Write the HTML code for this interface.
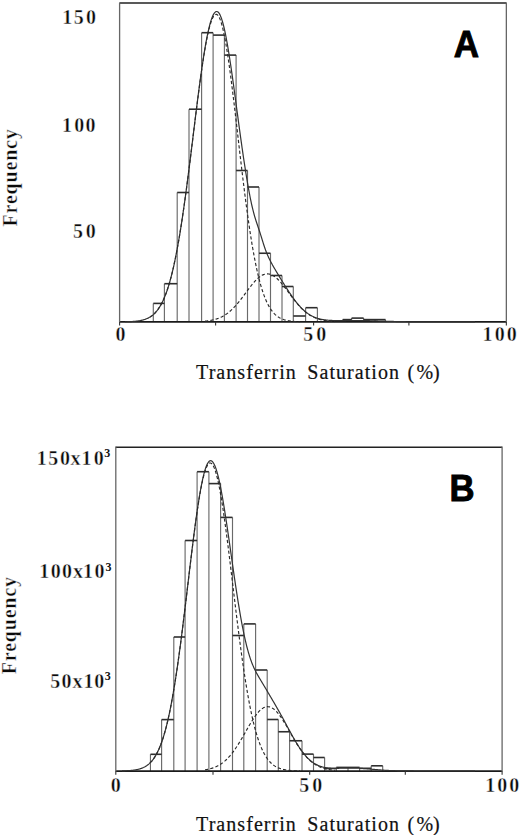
<!DOCTYPE html>
<html><head><meta charset="utf-8"><style>
html,body{margin:0;padding:0;background:#fff;}
svg{display:block;}
.vl{stroke:#6a6a6a;stroke-width:1.15;}
.hl{stroke:#2e2e2e;stroke-width:1.6;}
.boxh{stroke:#222;stroke-width:1.4;}
.boxb{stroke:#1a1a1a;stroke-width:1.7;}
.boxv{stroke:#666;stroke-width:1.3;}
.tick{stroke:#333;stroke-width:1.1;}
.solid{fill:none;stroke:#333;stroke-width:1.2;}
.dash{fill:none;stroke:#2a2a2a;stroke-width:1.15;stroke-dasharray:3.2,2.2;}
.num{font-family:"Liberation Serif",serif;font-weight:bold;font-size:20px;fill:#0a0a0a;stroke:#fff;stroke-width:0.4px;}
.sup{font-family:"Liberation Serif",serif;font-weight:bold;font-size:12px;fill:#111;}
.ylab{font-family:"Liberation Serif",serif;font-weight:bold;font-size:20px;letter-spacing:0.8px;fill:#0a0a0a;stroke:#fff;stroke-width:0.4px;}
.xlab{font-family:"Liberation Serif",serif;font-size:20px;letter-spacing:1.05px;fill:#111;stroke:#111;stroke-width:0.2px;}
.big{font-family:"Liberation Sans",sans-serif;font-weight:bold;font-size:36.3px;fill:#000;stroke:#000;stroke-width:0.9px;stroke-linejoin:miter;}
</style></head>
<body><svg width="520" height="835" viewBox="0 0 520 835">
<line x1="153.30" y1="321.90" x2="153.30" y2="303.40" class="vl"/>
<line x1="164.40" y1="321.90" x2="164.40" y2="283.70" class="vl"/>
<line x1="177.20" y1="321.90" x2="177.20" y2="192.50" class="vl"/>
<line x1="189.00" y1="321.90" x2="189.00" y2="109.20" class="vl"/>
<line x1="201.60" y1="321.90" x2="201.60" y2="32.70" class="vl"/>
<line x1="213.10" y1="321.90" x2="213.10" y2="32.70" class="vl"/>
<line x1="224.40" y1="321.90" x2="224.40" y2="35.10" class="vl"/>
<line x1="236.10" y1="321.90" x2="236.10" y2="55.10" class="vl"/>
<line x1="247.50" y1="321.90" x2="247.50" y2="170.50" class="vl"/>
<line x1="259.00" y1="321.90" x2="259.00" y2="187.00" class="vl"/>
<line x1="270.50" y1="321.90" x2="270.50" y2="253.25" class="vl"/>
<line x1="282.00" y1="321.90" x2="282.00" y2="275.50" class="vl"/>
<line x1="293.30" y1="321.90" x2="293.30" y2="286.50" class="vl"/>
<line x1="305.60" y1="321.90" x2="305.60" y2="307.70" class="vl"/>
<line x1="317.40" y1="321.90" x2="317.40" y2="307.70" class="vl"/>
<line x1="342.70" y1="321.90" x2="342.70" y2="319.60" class="vl"/>
<line x1="351.60" y1="321.90" x2="351.60" y2="318.10" class="vl"/>
<line x1="363.60" y1="321.90" x2="363.60" y2="318.10" class="vl"/>
<line x1="375.00" y1="321.90" x2="375.00" y2="319.60" class="vl"/>
<line x1="385.50" y1="321.90" x2="385.50" y2="319.60" class="vl"/>
<line x1="153.30" y1="303.40" x2="164.40" y2="303.40" class="hl"/>
<line x1="164.40" y1="283.70" x2="177.20" y2="283.70" class="hl"/>
<line x1="177.20" y1="192.50" x2="189.00" y2="192.50" class="hl"/>
<line x1="189.00" y1="109.20" x2="201.60" y2="109.20" class="hl"/>
<line x1="201.60" y1="32.70" x2="213.10" y2="32.70" class="hl"/>
<line x1="213.10" y1="35.10" x2="224.40" y2="35.10" class="hl"/>
<line x1="224.40" y1="55.10" x2="236.10" y2="55.10" class="hl"/>
<line x1="236.10" y1="170.50" x2="247.50" y2="170.50" class="hl"/>
<line x1="247.50" y1="187.00" x2="259.00" y2="187.00" class="hl"/>
<line x1="259.00" y1="253.25" x2="270.50" y2="253.25" class="hl"/>
<line x1="270.50" y1="275.50" x2="282.00" y2="275.50" class="hl"/>
<line x1="282.00" y1="286.50" x2="293.30" y2="286.50" class="hl"/>
<line x1="293.30" y1="316.00" x2="305.60" y2="316.00" class="hl"/>
<line x1="305.60" y1="307.70" x2="317.40" y2="307.70" class="hl"/>
<line x1="342.70" y1="319.60" x2="351.60" y2="319.60" class="hl"/>
<line x1="351.60" y1="318.10" x2="363.60" y2="318.10" class="hl"/>
<line x1="363.60" y1="319.60" x2="375.00" y2="319.60" class="hl"/>
<line x1="375.00" y1="319.60" x2="385.50" y2="319.60" class="hl"/>
<line x1="119.6" y1="3.0" x2="506.35" y2="3.0" class="boxh"/>
<line x1="119.6" y1="321.9" x2="506.35" y2="321.9" class="boxb"/>
<line x1="119.6" y1="2.4" x2="119.6" y2="322.5" class="boxv"/>
<line x1="506.35" y1="2.4" x2="506.35" y2="322.5" class="boxv"/>
<line x1="119.60" y1="321.9" x2="119.60" y2="325.4" class="tick"/>
<line x1="215.60" y1="321.9" x2="215.60" y2="325.4" class="tick"/>
<line x1="313.60" y1="321.9" x2="313.60" y2="325.4" class="tick"/>
<line x1="408.90" y1="321.9" x2="408.90" y2="325.4" class="tick"/>
<line x1="506.35" y1="321.9" x2="506.35" y2="325.4" class="tick"/>
<path d="M125.00,321.78 L125.50,321.77 L126.00,321.76 L126.50,321.75 L127.00,321.73 L127.50,321.72 L128.00,321.70 L128.50,321.69 L129.00,321.67 L129.50,321.65 L130.00,321.63 L130.50,321.60 L131.00,321.58 L131.50,321.55 L132.00,321.52 L132.50,321.49 L133.00,321.46 L133.50,321.42 L134.00,321.38 L134.50,321.34 L135.00,321.30 L135.50,321.25 L136.00,321.20 L136.50,321.14 L137.00,321.08 L137.50,321.02 L138.00,320.95 L138.50,320.88 L139.00,320.80 L139.50,320.72 L140.00,320.63 L140.50,320.53 L141.00,320.43 L141.50,320.32 L142.00,320.21 L142.50,320.09 L143.00,319.96 L143.50,319.82 L144.00,319.67 L144.50,319.51 L145.00,319.35 L145.50,319.17 L146.00,318.98 L146.50,318.78 L147.00,318.57 L147.50,318.35 L148.00,318.11 L148.50,317.86 L149.00,317.59 L149.50,317.31 L150.00,317.01 L150.50,316.70 L151.00,316.37 L151.50,316.02 L152.00,315.65 L152.50,315.26 L153.00,314.85 L153.50,314.42 L154.00,313.96 L154.50,313.48 L155.00,312.98 L155.50,312.45 L156.00,311.89 L156.50,311.31 L157.00,310.70 L157.50,310.06 L158.00,309.38 L158.50,308.68 L159.00,307.94 L159.50,307.17 L160.00,306.36 L160.50,305.52 L161.00,304.64 L161.50,303.72 L162.00,302.76 L162.50,301.76 L163.00,300.71 L163.50,299.63 L164.00,298.49 L164.50,297.32 L165.00,296.09 L165.50,294.82 L166.00,293.49 L166.50,292.12 L167.00,290.70 L167.50,289.22 L168.00,287.69 L168.50,286.10 L169.00,284.46 L169.50,282.76 L170.00,281.00 L170.50,279.19 L171.00,277.31 L171.50,275.38 L172.00,273.38 L172.50,271.32 L173.00,269.20 L173.50,267.02 L174.00,264.77 L174.50,262.46 L175.00,260.08 L175.50,257.64 L176.00,255.14 L176.50,252.57 L177.00,249.94 L177.50,247.24 L178.00,244.47 L178.50,241.64 L179.00,238.75 L179.50,235.80 L180.00,232.78 L180.50,229.70 L181.00,226.55 L181.50,223.35 L182.00,220.09 L182.50,216.77 L183.00,213.39 L183.50,209.95 L184.00,206.47 L184.50,202.92 L185.00,199.33 L185.50,195.69 L186.00,192.01 L186.50,188.27 L187.00,184.50 L187.50,180.68 L188.00,176.83 L188.50,172.95 L189.00,169.03 L189.50,165.08 L190.00,161.10 L190.50,157.11 L191.00,153.09 L191.50,149.06 L192.00,145.01 L192.50,140.95 L193.00,136.89 L193.50,132.83 L194.00,128.76 L194.50,124.71 L195.00,120.66 L195.50,116.62 L196.00,112.61 L196.50,108.61 L197.00,104.64 L197.50,100.70 L198.00,96.79 L198.50,92.92 L199.00,89.10 L199.50,85.32 L200.00,81.59 L200.50,77.92 L201.00,74.31 L201.50,70.76 L202.00,67.28 L202.50,63.87 L203.00,60.54 L203.50,57.29 L204.00,54.12 L204.50,51.05 L205.00,48.06 L205.50,45.17 L206.00,42.38 L206.50,39.69 L207.00,37.10 L207.50,34.63 L208.00,32.26 L208.50,30.02 L209.00,27.89 L209.50,25.88 L210.00,23.99 L210.50,22.24 L211.00,20.60 L211.50,19.10 L212.00,17.73 L212.50,16.49 L213.00,15.38 L213.50,14.41 L214.00,13.58 L214.50,12.89 L215.00,12.33 L215.50,11.91 L216.00,11.63 L216.50,11.49 L217.00,11.50 L217.50,11.67 L218.00,12.00 L218.50,12.49 L219.00,13.12 L219.50,13.91 L220.00,14.85 L220.50,15.94 L221.00,17.18 L221.50,18.55 L222.00,20.07 L222.50,21.73 L223.00,23.52 L223.50,25.44 L224.00,27.49 L224.50,29.67 L225.00,31.96 L225.50,34.37 L226.00,36.89 L226.50,39.52 L227.00,42.25 L227.50,45.07 L228.00,48.00 L228.50,51.00 L229.00,54.10 L229.50,57.27 L230.00,60.51 L230.50,63.82 L231.00,67.20 L231.50,70.63 L232.00,74.11 L232.50,77.64 L233.00,81.21 L233.50,84.82 L234.00,88.47 L234.50,92.14 L235.00,95.83 L235.50,99.53 L236.00,103.25 L236.50,106.98 L237.00,110.71 L237.50,114.43 L238.00,118.15 L238.50,121.86 L239.00,125.56 L239.50,129.23 L240.00,132.89 L240.50,136.52 L241.00,140.11 L241.50,143.68 L242.00,147.21 L242.50,150.69 L243.00,154.14 L243.50,157.54 L244.00,160.89 L244.50,164.20 L245.00,167.45 L245.50,170.64 L246.00,173.78 L246.50,176.86 L247.00,179.87 L247.50,182.82 L248.00,185.71 L248.50,188.52 L249.00,191.26 L249.50,193.93 L250.00,196.51 L250.50,199.02 L251.00,201.43 L251.50,203.76 L252.00,206.00 L252.50,208.14 L253.00,210.19 L253.50,212.14 L254.00,214.01 L254.50,215.79 L255.00,217.50 L255.50,219.13 L256.00,220.71 L256.50,222.25 L257.00,223.75 L257.50,225.24 L258.00,226.72 L258.50,228.20 L259.00,229.70 L259.50,231.22 L260.00,232.77 L260.50,234.34 L261.00,235.93 L261.50,237.54 L262.00,239.16 L262.50,240.77 L263.00,242.37 L263.50,243.95 L264.00,245.50 L264.50,247.00 L265.00,248.46 L265.50,249.87 L266.00,251.23 L266.50,252.53 L267.00,253.77 L267.50,254.97 L268.00,256.11 L268.50,257.22 L269.00,258.28 L269.50,259.31 L270.00,260.30 L270.50,261.27 L271.00,262.22 L271.50,263.15 L272.00,264.06 L272.50,264.96 L273.00,265.85 L273.50,266.72 L274.00,267.59 L274.50,268.45 L275.00,269.31 L275.50,270.16 L276.00,271.00 L276.50,271.84 L277.00,272.68 L277.50,273.52 L278.00,274.35 L278.50,275.18 L279.00,276.00 L279.50,276.83 L280.00,277.65 L280.50,278.47 L281.00,279.29 L281.50,280.10 L282.00,280.92 L282.50,281.73 L283.00,282.54 L283.50,283.34 L284.00,284.14 L284.50,284.95 L285.00,285.74 L285.50,286.54 L286.00,287.33 L286.50,288.11 L287.00,288.89 L287.50,289.67 L288.00,290.44 L288.50,291.20 L289.00,291.96 L289.50,292.72 L290.00,293.46 L290.50,294.20 L291.00,294.94 L291.50,295.66 L292.00,296.38 L292.50,297.09 L293.00,297.79 L293.50,298.48 L294.00,299.16 L294.50,299.83 L295.00,300.49 L295.50,301.15 L296.00,301.79 L296.50,302.42 L297.00,303.04 L297.50,303.64 L298.00,304.24 L298.50,304.83 L299.00,305.40 L299.50,305.96 L300.00,306.51 L300.50,307.05 L301.00,307.57 L301.50,308.09 L302.00,308.59 L302.50,309.07 L303.00,309.55 L303.50,310.01 L304.00,310.46 L304.50,310.90 L305.00,311.33 L305.50,311.74 L306.00,312.14 L306.50,312.53 L307.00,312.91 L307.50,313.27 L308.00,313.62 L308.50,313.97 L309.00,314.29 L309.50,314.61 L310.00,314.92 L310.50,315.21 L311.00,315.50 L311.50,315.77 L312.00,316.04 L312.50,316.29 L313.00,316.53 L313.50,316.76 L314.00,316.99 L314.50,317.20 L315.00,317.41 L315.50,317.60 L316.00,317.79 L316.50,317.97 L317.00,318.14 L317.50,318.30 L318.00,318.45 L318.50,318.60 L319.00,318.74 L319.50,318.87 L320.00,318.99 L320.50,319.11 L321.00,319.22 L321.50,319.33 L322.00,319.43 L322.50,319.52 L323.00,319.61 L323.50,319.69 L324.00,319.77 L324.50,319.84 L325.00,319.91 L325.50,319.97 L326.00,320.03 L326.50,320.08 L327.00,320.14 L327.50,320.18 L328.00,320.23 L328.50,320.27 L329.00,320.30 L329.50,320.34 L330.00,320.37 L330.50,320.40 L331.00,320.42 L331.50,320.44 L332.00,320.46 L332.50,320.48 L333.00,320.50 L333.50,320.51 L334.00,320.53 L334.50,320.54 L335.00,320.55 L335.50,320.55 L336.00,320.56 L336.50,320.57 L337.00,320.57 L337.50,320.57 L338.00,320.57 L338.50,320.57 L339.00,320.57 L339.50,320.57 L340.00,320.57 L340.50,320.57 L341.00,320.57 L341.50,320.57 L342.00,320.56 L342.50,320.56 L343.00,320.55 L343.50,320.55 L344.00,320.55 L344.50,320.54 L345.00,320.54 L345.50,320.53 L346.00,320.53 L346.50,320.52 L347.00,320.52 L347.50,320.52 L348.00,320.51 L348.50,320.51 L349.00,320.50 L349.50,320.50 L350.00,320.50 L350.50,320.50 L351.00,320.49 L351.50,320.49 L352.00,320.49 L352.50,320.49 L353.00,320.49 L353.50,320.49 L354.00,320.49 L354.50,320.49 L355.00,320.49 L355.50,320.49 L356.00,320.49 L356.50,320.49 L357.00,320.50 L357.50,320.50 L358.00,320.50 L358.50,320.51 L359.00,320.51 L359.50,320.52 L360.00,320.52 L360.50,320.53 L361.00,320.54 L361.50,320.54 L362.00,320.55 L362.50,320.56 L363.00,320.57 L363.50,320.58 L364.00,320.59 L364.50,320.60 L365.00,320.61 L365.50,320.62 L366.00,320.63 L366.50,320.64 L367.00,320.65 L367.50,320.66 L368.00,320.68 L368.50,320.69 L369.00,320.70 L369.50,320.72 L370.00,320.73 L370.50,320.74 L371.00,320.76 L371.50,320.77 L372.00,320.79 L372.50,320.80 L373.00,320.82 L373.50,320.84 L374.00,320.85 L374.50,320.87 L375.00,320.88 L375.50,320.90 L376.00,320.92 L376.50,320.93 L377.00,320.95 L377.50,320.97 L378.00,320.98 L378.50,321.00 L379.00,321.02 L379.50,321.03 L380.00,321.05 L380.50,321.07 L381.00,321.08 L381.50,321.10 L382.00,321.12 L382.50,321.14 L383.00,321.15 L383.50,321.17 L384.00,321.19 L384.50,321.20 L385.00,321.22 L385.50,321.23 L386.00,321.25 L386.50,321.27 L387.00,321.28 L387.50,321.30 L388.00,321.31 L388.50,321.33 L389.00,321.34 L389.50,321.36 L390.00,321.37 L390.50,321.39 L391.00,321.40 L391.50,321.42 L392.00,321.43 L392.50,321.45 L393.00,321.46 L393.50,321.47 L394.00,321.49 L394.50,321.50 L395.00,321.51 L395.50,321.52 L396.00,321.54 L396.50,321.55 L397.00,321.56 L397.50,321.57 L398.00,321.58 L398.50,321.59 L399.00,321.60 L399.50,321.61 L400.00,321.62 L400.50,321.63 L401.00,321.64 L401.50,321.65 L402.00,321.66 L402.50,321.67 L403.00,321.68 L403.50,321.69 L404.00,321.69 L404.50,321.70 L405.00,321.71 L405.50,321.72 L406.00,321.73 L406.50,321.73 L407.00,321.74 L407.50,321.75 L408.00,321.75 L408.50,321.76 L409.00,321.76 L409.50,321.77 L410.00,321.78 L410.50,321.78 L411.00,321.79 L411.50,321.79 L412.00,321.80 L412.50,321.80 L413.00,321.81 L413.50,321.81 L414.00,321.81 L414.50,321.82 L415.00,321.82 L415.50,321.83 L416.00,321.83 L416.50,321.83 L417.00,321.84 L417.50,321.84 L418.00,321.84 L418.50,321.84 L419.00,321.85 L419.50,321.85 L420.00,321.85 L420.50,321.85 L421.00,321.86 L421.50,321.86 L422.00,321.86 L422.50,321.86 L423.00,321.87 L423.50,321.87 L424.00,321.87 L424.50,321.87 L425.00,321.87 L425.50,321.87 L426.00,321.88 L426.50,321.88 L427.00,321.88 L427.50,321.88 L428.00,321.88 L428.50,321.88 L429.00,321.88 L429.50,321.88 L430.00,321.88 L430.50,321.89 L431.00,321.89 L431.50,321.89 L432.00,321.89 L432.50,321.89 L433.00,321.89 L433.50,321.89 L434.00,321.89 L434.50,321.89 L435.00,321.89 L435.50,321.89 L436.00,321.89 L436.50,321.89 L437.00,321.89 L437.50,321.89 L438.00,321.89 L438.50,321.89 L439.00,321.90 L439.50,321.90 L440.00,321.90 L440.50,321.90 L441.00,321.90 L441.50,321.90 L442.00,321.90 L442.50,321.90 L443.00,321.90 L443.50,321.90 L444.00,321.90 L444.50,321.90 L445.00,321.90 L445.50,321.90 L446.00,321.90 L446.50,321.90 L447.00,321.90 L447.50,321.90 L448.00,321.90 L448.50,321.90 L449.00,321.90 L449.50,321.90 L450.00,321.90 L450.50,321.90 L451.00,321.90 L451.50,321.90 L452.00,321.90 L452.50,321.90 L453.00,321.90 L453.50,321.90 L454.00,321.90 L454.50,321.90 L455.00,321.90 L455.50,321.90 L456.00,321.90 L456.50,321.90 L457.00,321.90 L457.50,321.90 L458.00,321.90 L458.50,321.90 L459.00,321.90 L459.50,321.90 L460.00,321.90 L460.50,321.90 L461.00,321.90 L461.50,321.90 L462.00,321.90 L462.50,321.90 L463.00,321.90 L463.50,321.90 L464.00,321.90 L464.50,321.90 L465.00,321.90 L465.50,321.90 L466.00,321.90 L466.50,321.90 L467.00,321.90 L467.50,321.90 L468.00,321.90 L468.50,321.90 L469.00,321.90 L469.50,321.90 L470.00,321.90 L470.50,321.90 L471.00,321.90 L471.50,321.90 L472.00,321.90 L472.50,321.90 L473.00,321.90 L473.50,321.90 L474.00,321.90 L474.50,321.90 L475.00,321.90" class="solid"/>
<path d="M150.00,317.01 L150.50,316.70 L151.00,316.37 L151.50,316.02 L152.00,315.65 L152.50,315.26 L153.00,314.85 L153.50,314.42 L154.00,313.96 L154.50,313.48 L155.00,312.98 L155.50,312.45 L156.00,311.89 L156.50,311.31 L157.00,310.70 L157.50,310.06 L158.00,309.39 L158.50,308.68 L159.00,307.94 L159.50,307.17 L160.00,306.36 L160.50,305.52 L161.00,304.64 L161.50,303.72 L162.00,302.76 L162.50,301.76 L163.00,300.71 L163.50,299.63 L164.00,298.49 L164.50,297.32 L165.00,296.09 L165.50,294.82 L166.00,293.49 L166.50,292.12 L167.00,290.70 L167.50,289.22 L168.00,287.69 L168.50,286.10 L169.00,284.46 L169.50,282.76 L170.00,281.00 L170.50,279.19 L171.00,277.31 L171.50,275.38 L172.00,273.38 L172.50,271.32 L173.00,269.20 L173.50,267.02 L174.00,264.77 L174.50,262.46 L175.00,260.09 L175.50,257.65 L176.00,255.15 L176.50,252.58 L177.00,249.94 L177.50,247.24 L178.00,244.48 L178.50,241.65 L179.00,238.76 L179.50,235.81 L180.00,232.79 L180.50,229.71 L181.00,226.57 L181.50,223.37 L182.00,220.11 L182.50,216.79 L183.00,213.41 L183.50,209.98 L184.00,206.49 L184.50,202.95 L185.00,199.36 L185.50,195.73 L186.00,192.04 L186.50,188.31 L187.00,184.54 L187.50,180.73 L188.00,176.89 L188.50,173.00 L189.00,169.09 L189.50,165.15 L190.00,161.18 L190.50,157.19 L191.00,153.18 L191.50,149.15 L192.00,145.11 L192.50,141.07 L193.00,137.01 L193.50,132.96 L194.00,128.91 L194.50,124.86 L195.00,120.83 L195.50,116.80 L196.00,112.80 L196.50,108.82 L197.00,104.87 L197.50,100.95 L198.00,97.06 L198.50,93.21 L199.00,89.41 L199.50,85.65 L200.00,81.95 L200.50,78.31 L201.00,74.72 L201.50,71.21 L202.00,67.76 L202.50,64.39 L203.00,61.09 L203.50,57.88 L204.00,54.75 L204.50,51.72 L205.00,48.78 L205.50,45.94 L206.00,43.20 L206.50,40.57 L207.00,38.04 L207.50,35.63 L208.00,33.33 L208.50,31.16 L209.00,29.10 L209.50,27.17 L210.00,25.37 L210.50,23.70 L211.00,22.16 L211.50,20.75 L212.00,19.48 L212.50,18.35 L213.00,17.36 L213.50,16.51 L214.00,15.80 L214.50,15.24 L215.00,14.82 L215.50,14.54 L216.00,14.41 L216.50,14.43 L217.00,14.61 L217.50,14.96 L218.00,15.47 L218.50,16.14 L219.00,16.97 L219.50,17.97 L220.00,19.12 L220.50,20.43 L221.00,21.90 L221.50,23.52 L222.00,25.29 L222.50,27.21 L223.00,29.27 L223.50,31.47 L224.00,33.81 L224.50,36.28 L225.00,38.89 L225.50,41.62 L226.00,44.47 L226.50,47.45 L227.00,50.53 L227.50,53.73 L228.00,57.03 L228.50,60.42 L229.00,63.92 L229.50,67.50 L230.00,71.17 L230.50,74.91 L231.00,78.74 L231.50,82.63 L232.00,86.58 L232.50,90.59 L233.00,94.66 L233.50,98.77 L234.00,102.93 L234.50,107.13 L235.00,111.35 L235.50,115.61 L236.00,119.89 L236.50,124.18 L237.00,128.49 L237.50,132.80 L238.00,137.12 L238.50,141.43 L239.00,145.74 L239.50,150.04 L240.00,154.32 L240.50,158.59 L241.00,162.83 L241.50,167.04 L242.00,171.22 L242.50,175.37 L243.00,179.48 L243.50,183.55 L244.00,187.58 L244.50,191.56 L245.00,195.48 L245.50,199.36 L246.00,203.18 L246.50,206.94 L247.00,210.64 L247.50,214.28 L248.00,217.86 L248.50,221.37 L249.00,224.82 L249.50,228.20 L250.00,231.51 L250.50,234.75 L251.00,237.92 L251.50,241.01 L252.00,244.04 L252.50,246.99 L253.00,249.86 L253.50,252.67 L254.00,255.40 L254.50,258.06 L255.00,260.64 L255.50,263.15 L256.00,265.59 L256.50,267.95 L257.00,270.25 L257.50,272.47 L258.00,274.62 L258.50,276.71 L259.00,278.72 L259.50,280.67 L260.00,282.55 L260.50,284.36 L261.00,286.11 L261.50,287.80 L262.00,289.42 L262.50,290.99 L263.00,292.49 L263.50,293.94 L264.00,295.33 L264.50,296.66 L265.00,297.94 L265.50,299.17 L266.00,300.34 L266.50,301.47 L267.00,302.55 L267.50,303.58 L268.00,304.56 L268.50,305.50 L269.00,306.40 L269.50,307.26 L270.00,308.07 L270.50,308.85 L271.00,309.59 L271.50,310.30 L272.00,310.97 L272.50,311.61 L273.00,312.21 L273.50,312.79 L274.00,313.33 L274.50,313.85 L275.00,314.34 L275.50,314.80 L276.00,315.24 L276.50,315.66 L277.00,316.05 L277.50,316.42 L278.00,316.77 L278.50,317.10 L279.00,317.41 L279.50,317.70 L280.00,317.98 L280.50,318.24 L281.00,318.48 L281.50,318.71 L282.00,318.93 L282.50,319.13 L283.00,319.32 L283.50,319.50 L284.00,319.67 L284.50,319.83 L285.00,319.97 L285.50,320.11 L286.00,320.24 L286.50,320.36 L287.00,320.47 L287.50,320.58 L288.00,320.67 L288.50,320.77 L289.00,320.85 L289.50,320.93 L290.00,321.00 L290.50,321.07 L291.00,321.13 L291.50,321.19 L292.00,321.25 L292.50,321.30 L293.00,321.35 L293.50,321.39 L294.00,321.43 L294.50,321.47 L295.00,321.50 L295.50,321.54 L296.00,321.57 L296.50,321.59 L297.00,321.62 L297.50,321.64 L298.00,321.66 L298.50,321.68 L299.00,321.70 L299.50,321.72 L300.00,321.73" class="dash"/>
<path d="M205.00,321.18 L205.50,321.13 L206.00,321.08 L206.50,321.02 L207.00,320.96 L207.50,320.90 L208.00,320.83 L208.50,320.76 L209.00,320.69 L209.50,320.61 L210.00,320.52 L210.50,320.44 L211.00,320.34 L211.50,320.25 L212.00,320.14 L212.50,320.04 L213.00,319.92 L213.50,319.80 L214.00,319.68 L214.50,319.55 L215.00,319.41 L215.50,319.27 L216.00,319.11 L216.50,318.96 L217.00,318.79 L217.50,318.62 L218.00,318.44 L218.50,318.25 L219.00,318.05 L219.50,317.85 L220.00,317.63 L220.50,317.41 L221.00,317.18 L221.50,316.94 L222.00,316.69 L222.50,316.42 L223.00,316.15 L223.50,315.87 L224.00,315.58 L224.50,315.28 L225.00,314.97 L225.50,314.65 L226.00,314.31 L226.50,313.97 L227.00,313.61 L227.50,313.25 L228.00,312.87 L228.50,312.48 L229.00,312.08 L229.50,311.67 L230.00,311.24 L230.50,310.81 L231.00,310.36 L231.50,309.90 L232.00,309.43 L232.50,308.95 L233.00,308.45 L233.50,307.95 L234.00,307.43 L234.50,306.91 L235.00,306.37 L235.50,305.82 L236.00,305.27 L236.50,304.70 L237.00,304.12 L237.50,303.53 L238.00,302.93 L238.50,302.33 L239.00,301.72 L239.50,301.09 L240.00,300.46 L240.50,299.83 L241.00,299.19 L241.50,298.54 L242.00,297.88 L242.50,297.22 L243.00,296.56 L243.50,295.89 L244.00,295.22 L244.50,294.54 L245.00,293.87 L245.50,293.19 L246.00,292.52 L246.50,291.84 L247.00,291.16 L247.50,290.49 L248.00,289.82 L248.50,289.15 L249.00,288.49 L249.50,287.83 L250.00,287.17 L250.50,286.53 L251.00,285.89 L251.50,285.26 L252.00,284.64 L252.50,284.03 L253.00,283.42 L253.50,282.84 L254.00,282.26 L254.50,281.70 L255.00,281.15 L255.50,280.61 L256.00,280.09 L256.50,279.59 L257.00,279.10 L257.50,278.64 L258.00,278.19 L258.50,277.76 L259.00,277.35 L259.50,276.96 L260.00,276.59 L260.50,276.24 L261.00,275.92 L261.50,275.62 L262.00,275.34 L262.50,275.08 L263.00,274.85 L263.50,274.64 L264.00,274.46 L264.50,274.31 L265.00,274.17 L265.50,274.07 L266.00,273.99 L266.50,273.93 L267.00,273.90 L267.50,273.90 L268.00,273.93 L268.50,273.97 L269.00,274.05 L269.50,274.15 L270.00,274.28 L270.50,274.43 L271.00,274.61 L271.50,274.81 L272.00,275.03 L272.50,275.28 L273.00,275.56 L273.50,275.85 L274.00,276.18 L274.50,276.52 L275.00,276.88 L275.50,277.27 L276.00,277.67 L276.50,278.10 L277.00,278.54 L277.50,279.01 L278.00,279.49 L278.50,279.99 L279.00,280.51 L279.50,281.04 L280.00,281.58 L280.50,282.15 L281.00,282.72 L281.50,283.31 L282.00,283.90 L282.50,284.51 L283.00,285.13 L283.50,285.76 L284.00,286.40 L284.50,287.04 L285.00,287.70 L285.50,288.35 L286.00,289.02 L286.50,289.68 L287.00,290.35 L287.50,291.03 L288.00,291.70 L288.50,292.38 L289.00,293.06 L289.50,293.73 L290.00,294.41 L290.50,295.08 L291.00,295.76 L291.50,296.42 L292.00,297.09 L292.50,297.75 L293.00,298.41 L293.50,299.06 L294.00,299.70 L294.50,300.34 L295.00,300.97 L295.50,301.59 L296.00,302.21 L296.50,302.81 L297.00,303.41 L297.50,304.00 L298.00,304.58 L298.50,305.15 L299.00,305.71 L299.50,306.26 L300.00,306.80 L300.50,307.33 L301.00,307.85 L301.50,308.35 L302.00,308.85 L302.50,309.33 L303.00,309.81 L303.50,310.27 L304.00,310.72 L304.50,311.16 L305.00,311.58 L305.50,312.00 L306.00,312.40 L306.50,312.79 L307.00,313.17 L307.50,313.54 L308.00,313.90 L308.50,314.25 L309.00,314.58 L309.50,314.91 L310.00,315.22 L310.50,315.52 L311.00,315.82 L311.50,316.10 L312.00,316.37 L312.50,316.63 L313.00,316.89 L313.50,317.13 L314.00,317.36 L314.50,317.59 L315.00,317.80 L315.50,318.01 L316.00,318.21 L316.50,318.40 L317.00,318.58 L317.50,318.76 L318.00,318.92 L318.50,319.08 L319.00,319.24 L319.50,319.38 L320.00,319.52 L320.50,319.65 L321.00,319.78 L321.50,319.90 L322.00,320.01 L322.50,320.12 L323.00,320.23 L323.50,320.32 L324.00,320.42 L324.50,320.51 L325.00,320.59 L325.50,320.67 L326.00,320.74 L326.50,320.82 L327.00,320.88 L327.50,320.95 L328.00,321.01 L328.50,321.06 L329.00,321.12 L329.50,321.17 L330.00,321.22 L330.50,321.26 L331.00,321.30 L331.50,321.34 L332.00,321.38 L332.50,321.42 L333.00,321.45 L333.50,321.48 L334.00,321.51 L334.50,321.54 L335.00,321.56" class="dash"/>
<line x1="150.45" y1="771.20" x2="150.45" y2="754.30" class="vl"/>
<line x1="161.60" y1="771.20" x2="161.60" y2="719.60" class="vl"/>
<line x1="173.80" y1="771.20" x2="173.80" y2="637.00" class="vl"/>
<line x1="185.10" y1="771.20" x2="185.10" y2="540.50" class="vl"/>
<line x1="197.10" y1="771.20" x2="197.10" y2="471.70" class="vl"/>
<line x1="208.90" y1="771.20" x2="208.90" y2="471.70" class="vl"/>
<line x1="220.60" y1="771.20" x2="220.60" y2="483.60" class="vl"/>
<line x1="232.50" y1="771.20" x2="232.50" y2="517.40" class="vl"/>
<line x1="243.80" y1="771.20" x2="243.80" y2="623.90" class="vl"/>
<line x1="255.60" y1="771.20" x2="255.60" y2="623.90" class="vl"/>
<line x1="267.20" y1="771.20" x2="267.20" y2="670.00" class="vl"/>
<line x1="278.30" y1="771.20" x2="278.30" y2="719.50" class="vl"/>
<line x1="289.60" y1="771.20" x2="289.60" y2="731.75" class="vl"/>
<line x1="302.00" y1="771.20" x2="302.00" y2="740.75" class="vl"/>
<line x1="313.50" y1="771.20" x2="313.50" y2="754.10" class="vl"/>
<line x1="324.60" y1="771.20" x2="324.60" y2="757.50" class="vl"/>
<line x1="336.30" y1="771.20" x2="336.30" y2="767.40" class="vl"/>
<line x1="348.00" y1="771.20" x2="348.00" y2="767.40" class="vl"/>
<line x1="359.60" y1="771.20" x2="359.60" y2="767.40" class="vl"/>
<line x1="371.20" y1="771.20" x2="371.20" y2="765.80" class="vl"/>
<line x1="382.70" y1="771.20" x2="382.70" y2="765.80" class="vl"/>
<line x1="150.45" y1="754.30" x2="161.60" y2="754.30" class="hl"/>
<line x1="161.60" y1="719.60" x2="173.80" y2="719.60" class="hl"/>
<line x1="173.80" y1="637.00" x2="185.10" y2="637.00" class="hl"/>
<line x1="185.10" y1="540.50" x2="197.10" y2="540.50" class="hl"/>
<line x1="197.10" y1="471.70" x2="208.90" y2="471.70" class="hl"/>
<line x1="208.90" y1="483.60" x2="220.60" y2="483.60" class="hl"/>
<line x1="220.60" y1="517.40" x2="232.50" y2="517.40" class="hl"/>
<line x1="232.50" y1="635.50" x2="243.80" y2="635.50" class="hl"/>
<line x1="243.80" y1="623.90" x2="255.60" y2="623.90" class="hl"/>
<line x1="255.60" y1="670.00" x2="267.20" y2="670.00" class="hl"/>
<line x1="267.20" y1="719.50" x2="278.30" y2="719.50" class="hl"/>
<line x1="278.30" y1="731.75" x2="289.60" y2="731.75" class="hl"/>
<line x1="289.60" y1="740.75" x2="302.00" y2="740.75" class="hl"/>
<line x1="302.00" y1="754.10" x2="313.50" y2="754.10" class="hl"/>
<line x1="313.50" y1="757.50" x2="324.60" y2="757.50" class="hl"/>
<line x1="324.60" y1="768.50" x2="336.30" y2="768.50" class="hl"/>
<line x1="336.30" y1="767.40" x2="348.00" y2="767.40" class="hl"/>
<line x1="348.00" y1="767.40" x2="359.60" y2="767.40" class="hl"/>
<line x1="359.60" y1="768.30" x2="371.20" y2="768.30" class="hl"/>
<line x1="371.20" y1="765.80" x2="382.70" y2="765.80" class="hl"/>
<line x1="115.8" y1="447.2" x2="502.1" y2="447.2" class="boxh"/>
<line x1="115.8" y1="771.2" x2="502.1" y2="771.2" class="boxb"/>
<line x1="115.8" y1="446.59999999999997" x2="115.8" y2="771.8000000000001" class="boxv"/>
<line x1="502.1" y1="446.59999999999997" x2="502.1" y2="771.8000000000001" class="boxv"/>
<line x1="115.80" y1="771.2" x2="115.80" y2="774.7" class="tick"/>
<line x1="213.00" y1="771.2" x2="213.00" y2="774.7" class="tick"/>
<line x1="309.70" y1="771.2" x2="309.70" y2="774.7" class="tick"/>
<line x1="405.30" y1="771.2" x2="405.30" y2="774.7" class="tick"/>
<line x1="502.10" y1="771.2" x2="502.10" y2="774.7" class="tick"/>
<path d="M122.00,770.88 L122.50,770.87 L123.00,770.85 L123.50,770.84 L124.00,770.82 L124.50,770.81 L125.00,770.79 L125.50,770.77 L126.00,770.75 L126.50,770.73 L127.00,770.71 L127.50,770.68 L128.00,770.65 L128.50,770.63 L129.00,770.59 L129.50,770.56 L130.00,770.52 L130.50,770.48 L131.00,770.44 L131.50,770.39 L132.00,770.34 L132.50,770.29 L133.00,770.23 L133.50,770.17 L134.00,770.10 L134.50,770.03 L135.00,769.95 L135.50,769.87 L136.00,769.79 L136.50,769.69 L137.00,769.59 L137.50,769.48 L138.00,769.37 L138.50,769.25 L139.00,769.12 L139.50,768.98 L140.00,768.83 L140.50,768.67 L141.00,768.50 L141.50,768.32 L142.00,768.13 L142.50,767.93 L143.00,767.71 L143.50,767.49 L144.00,767.24 L144.50,766.98 L145.00,766.71 L145.50,766.42 L146.00,766.12 L146.50,765.79 L147.00,765.45 L147.50,765.09 L148.00,764.70 L148.50,764.30 L149.00,763.87 L149.50,763.42 L150.00,762.94 L150.50,762.44 L151.00,761.92 L151.50,761.36 L152.00,760.78 L152.50,760.17 L153.00,759.52 L153.50,758.85 L154.00,758.14 L154.50,757.39 L155.00,756.61 L155.50,755.79 L156.00,754.94 L156.50,754.04 L157.00,753.11 L157.50,752.13 L158.00,751.11 L158.50,750.04 L159.00,748.93 L159.50,747.77 L160.00,746.56 L160.50,745.30 L161.00,743.99 L161.50,742.62 L162.00,741.21 L162.50,739.74 L163.00,738.21 L163.50,736.62 L164.00,734.98 L164.50,733.28 L165.00,731.51 L165.50,729.69 L166.00,727.80 L166.50,725.85 L167.00,723.83 L167.50,721.75 L168.00,719.60 L168.50,717.39 L169.00,715.11 L169.50,712.76 L170.00,710.34 L170.50,707.85 L171.00,705.30 L171.50,702.67 L172.00,699.98 L172.50,697.22 L173.00,694.38 L173.50,691.48 L174.00,688.51 L174.50,685.48 L175.00,682.37 L175.50,679.20 L176.00,675.97 L176.50,672.67 L177.00,669.30 L177.50,665.88 L178.00,662.39 L178.50,658.84 L179.00,655.24 L179.50,651.58 L180.00,647.86 L180.50,644.10 L181.00,640.28 L181.50,636.42 L182.00,632.51 L182.50,628.56 L183.00,624.57 L183.50,620.55 L184.00,616.49 L184.50,612.40 L185.00,608.29 L185.50,604.15 L186.00,599.99 L186.50,595.82 L187.00,591.64 L187.50,587.44 L188.00,583.25 L188.50,579.05 L189.00,574.86 L189.50,570.68 L190.00,566.51 L190.50,562.36 L191.00,558.23 L191.50,554.12 L192.00,550.05 L192.50,546.02 L193.00,542.02 L193.50,538.07 L194.00,534.17 L194.50,530.33 L195.00,526.54 L195.50,522.82 L196.00,519.17 L196.50,515.59 L197.00,512.09 L197.50,508.67 L198.00,505.34 L198.50,502.10 L199.00,498.96 L199.50,495.92 L200.00,492.98 L200.50,490.14 L201.00,487.42 L201.50,484.82 L202.00,482.33 L202.50,479.96 L203.00,477.72 L203.50,475.61 L204.00,473.63 L204.50,471.78 L205.00,470.07 L205.50,468.50 L206.00,467.06 L206.50,465.77 L207.00,464.62 L207.50,463.62 L208.00,462.77 L208.50,462.06 L209.00,461.50 L209.50,461.08 L210.00,460.82 L210.50,460.70 L211.00,460.73 L211.50,460.90 L212.00,461.22 L212.50,461.68 L213.00,462.29 L213.50,463.03 L214.00,463.91 L214.50,464.93 L215.00,466.09 L215.50,467.38 L216.00,468.79 L216.50,470.34 L217.00,472.01 L217.50,473.80 L218.00,475.72 L218.50,477.74 L219.00,479.88 L219.50,482.13 L220.00,484.48 L220.50,486.93 L221.00,489.48 L221.50,492.12 L222.00,494.85 L222.50,497.66 L223.00,500.55 L223.50,503.51 L224.00,506.55 L224.50,509.64 L225.00,512.80 L225.50,516.02 L226.00,519.29 L226.50,522.60 L227.00,525.95 L227.50,529.34 L228.00,532.76 L228.50,536.21 L229.00,539.68 L229.50,543.17 L230.00,546.67 L230.50,550.18 L231.00,553.70 L231.50,557.21 L232.00,560.72 L232.50,564.22 L233.00,567.71 L233.50,571.18 L234.00,574.63 L234.50,578.06 L235.00,581.45 L235.50,584.82 L236.00,588.15 L236.50,591.44 L237.00,594.69 L237.50,597.89 L238.00,601.05 L238.50,604.15 L239.00,607.21 L239.50,610.20 L240.00,613.14 L240.50,616.02 L241.00,618.83 L241.50,621.58 L242.00,624.27 L242.50,626.89 L243.00,629.44 L243.50,631.91 L244.00,634.32 L244.50,636.66 L245.00,638.92 L245.50,641.11 L246.00,643.23 L246.50,645.27 L247.00,647.24 L247.50,649.14 L248.00,650.96 L248.50,652.72 L249.00,654.41 L249.50,656.02 L250.00,657.58 L250.50,659.07 L251.00,660.49 L251.50,661.86 L252.00,663.17 L252.50,664.43 L253.00,665.64 L253.50,666.80 L254.00,667.92 L254.50,668.99 L255.00,670.03 L255.50,671.03 L256.00,672.00 L256.50,672.95 L257.00,673.87 L257.50,674.77 L258.00,675.65 L258.50,676.52 L259.00,677.38 L259.50,678.22 L260.00,679.06 L260.50,679.89 L261.00,680.72 L261.50,681.55 L262.00,682.37 L262.50,683.20 L263.00,684.03 L263.50,684.86 L264.00,685.69 L264.50,686.52 L265.00,687.36 L265.50,688.20 L266.00,689.04 L266.50,689.89 L267.00,690.73 L267.50,691.58 L268.00,692.43 L268.50,693.28 L269.00,694.13 L269.50,694.98 L270.00,695.84 L270.50,696.69 L271.00,697.54 L271.50,698.40 L272.00,699.25 L272.50,700.10 L273.00,700.96 L273.50,701.81 L274.00,702.67 L274.50,703.53 L275.00,704.39 L275.50,705.25 L276.00,706.11 L276.50,706.97 L277.00,707.84 L277.50,708.71 L278.00,709.59 L278.50,710.47 L279.00,711.35 L279.50,712.24 L280.00,713.13 L280.50,714.02 L281.00,714.92 L281.50,715.83 L282.00,716.74 L282.50,717.65 L283.00,718.57 L283.50,719.49 L284.00,720.41 L284.50,721.34 L285.00,722.26 L285.50,723.20 L286.00,724.13 L286.50,725.06 L287.00,726.00 L287.50,726.93 L288.00,727.86 L288.50,728.79 L289.00,729.72 L289.50,730.65 L290.00,731.58 L290.50,732.50 L291.00,733.41 L291.50,734.32 L292.00,735.23 L292.50,736.13 L293.00,737.02 L293.50,737.91 L294.00,738.78 L294.50,739.65 L295.00,740.51 L295.50,741.36 L296.00,742.20 L296.50,743.02 L297.00,743.84 L297.50,744.65 L298.00,745.44 L298.50,746.22 L299.00,746.99 L299.50,747.74 L300.00,748.48 L300.50,749.21 L301.00,749.92 L301.50,750.62 L302.00,751.31 L302.50,751.98 L303.00,752.63 L303.50,753.27 L304.00,753.90 L304.50,754.50 L305.00,755.10 L305.50,755.68 L306.00,756.24 L306.50,756.79 L307.00,757.32 L307.50,757.84 L308.00,758.34 L308.50,758.83 L309.00,759.30 L309.50,759.75 L310.00,760.20 L310.50,760.62 L311.00,761.04 L311.50,761.43 L312.00,761.82 L312.50,762.18 L313.00,762.54 L313.50,762.88 L314.00,763.21 L314.50,763.52 L315.00,763.83 L315.50,764.11 L316.00,764.39 L316.50,764.66 L317.00,764.91 L317.50,765.15 L318.00,765.38 L318.50,765.59 L319.00,765.80 L319.50,766.00 L320.00,766.18 L320.50,766.36 L321.00,766.52 L321.50,766.68 L322.00,766.83 L322.50,766.97 L323.00,767.10 L323.50,767.22 L324.00,767.33 L324.50,767.44 L325.00,767.53 L325.50,767.63 L326.00,767.71 L326.50,767.79 L327.00,767.86 L327.50,767.92 L328.00,767.98 L328.50,768.03 L329.00,768.08 L329.50,768.12 L330.00,768.16 L330.50,768.20 L331.00,768.23 L331.50,768.25 L332.00,768.27 L332.50,768.29 L333.00,768.30 L333.50,768.31 L334.00,768.32 L334.50,768.33 L335.00,768.33 L335.50,768.33 L336.00,768.33 L336.50,768.32 L337.00,768.32 L337.50,768.31 L338.00,768.30 L338.50,768.29 L339.00,768.28 L339.50,768.27 L340.00,768.26 L340.50,768.24 L341.00,768.23 L341.50,768.22 L342.00,768.20 L342.50,768.19 L343.00,768.18 L343.50,768.16 L344.00,768.15 L344.50,768.13 L345.00,768.12 L345.50,768.11 L346.00,768.10 L346.50,768.09 L347.00,768.08 L347.50,768.07 L348.00,768.06 L348.50,768.06 L349.00,768.05 L349.50,768.05 L350.00,768.05 L350.50,768.05 L351.00,768.05 L351.50,768.05 L352.00,768.05 L352.50,768.06 L353.00,768.06 L353.50,768.07 L354.00,768.08 L354.50,768.09 L355.00,768.10 L355.50,768.12 L356.00,768.13 L356.50,768.15 L357.00,768.17 L357.50,768.19 L358.00,768.21 L358.50,768.23 L359.00,768.26 L359.50,768.28 L360.00,768.31 L360.50,768.34 L361.00,768.37 L361.50,768.40 L362.00,768.43 L362.50,768.47 L363.00,768.50 L363.50,768.54 L364.00,768.57 L364.50,768.61 L365.00,768.65 L365.50,768.69 L366.00,768.73 L366.50,768.77 L367.00,768.81 L367.50,768.85 L368.00,768.89 L368.50,768.93 L369.00,768.98 L369.50,769.02 L370.00,769.06 L370.50,769.11 L371.00,769.15 L371.50,769.20 L372.00,769.24 L372.50,769.28 L373.00,769.33 L373.50,769.37 L374.00,769.42 L374.50,769.46 L375.00,769.50 L375.50,769.55 L376.00,769.59 L376.50,769.63 L377.00,769.67 L377.50,769.71 L378.00,769.75 L378.50,769.79 L379.00,769.83 L379.50,769.87 L380.00,769.91 L380.50,769.95 L381.00,769.99 L381.50,770.02 L382.00,770.06 L382.50,770.09 L383.00,770.13 L383.50,770.16 L384.00,770.19 L384.50,770.23 L385.00,770.26 L385.50,770.29 L386.00,770.32 L386.50,770.34 L387.00,770.37 L387.50,770.40 L388.00,770.43 L388.50,770.45 L389.00,770.48 L389.50,770.50 L390.00,770.52 L390.50,770.55 L391.00,770.57 L391.50,770.59 L392.00,770.61 L392.50,770.63 L393.00,770.65 L393.50,770.66 L394.00,770.68 L394.50,770.70 L395.00,770.71 L395.50,770.73 L396.00,770.74 L396.50,770.76 L397.00,770.77 L397.50,770.78 L398.00,770.79 L398.50,770.81 L399.00,770.82 L399.50,770.83 L400.00,770.84 L400.50,770.85 L401.00,770.86 L401.50,770.86 L402.00,770.87 L402.50,770.88 L403.00,770.89 L403.50,770.89 L404.00,770.90 L404.50,770.91 L405.00,770.91 L405.50,770.92 L406.00,770.92 L406.50,770.93 L407.00,770.93 L407.50,770.94 L408.00,770.94 L408.50,770.95 L409.00,770.95 L409.50,770.95 L410.00,770.96 L410.50,770.96 L411.00,770.96 L411.50,770.97 L412.00,770.97 L412.50,770.97 L413.00,770.97 L413.50,770.97 L414.00,770.98 L414.50,770.98 L415.00,770.98 L415.50,770.98 L416.00,770.98 L416.50,770.98 L417.00,770.99 L417.50,770.99 L418.00,770.99 L418.50,770.99 L419.00,770.99 L419.50,770.99 L420.00,770.99 L420.50,770.99 L421.00,770.99 L421.50,770.99 L422.00,770.99 L422.50,770.99 L423.00,770.99 L423.50,771.00 L424.00,771.00 L424.50,771.00 L425.00,771.00 L425.50,771.00 L426.00,771.00 L426.50,771.00 L427.00,771.00 L427.50,771.00 L428.00,771.00 L428.50,771.00 L429.00,771.00 L429.50,771.00 L430.00,771.00 L430.50,771.00 L431.00,771.00 L431.50,771.00 L432.00,771.00 L432.50,771.00 L433.00,771.00 L433.50,771.00 L434.00,771.00 L434.50,771.00 L435.00,771.00 L435.50,771.00 L436.00,771.00 L436.50,771.00 L437.00,771.00 L437.50,771.00 L438.00,771.00 L438.50,771.00 L439.00,771.00 L439.50,771.00 L440.00,771.00 L440.50,771.00 L441.00,771.00 L441.50,771.00 L442.00,771.00 L442.50,771.00 L443.00,771.00 L443.50,771.00 L444.00,771.00 L444.50,771.00 L445.00,771.00 L445.50,771.00 L446.00,771.00 L446.50,771.00 L447.00,771.00 L447.50,771.00 L448.00,771.00 L448.50,771.00 L449.00,771.00 L449.50,771.00 L450.00,771.00 L450.50,771.00 L451.00,771.00 L451.50,771.00 L452.00,771.00 L452.50,771.00 L453.00,771.00 L453.50,771.00 L454.00,771.00 L454.50,771.00 L455.00,771.00 L455.50,771.00 L456.00,771.00 L456.50,771.00 L457.00,771.00 L457.50,771.00 L458.00,771.00 L458.50,771.00 L459.00,771.00 L459.50,771.00 L460.00,771.00 L460.50,771.00 L461.00,771.00 L461.50,771.00 L462.00,771.00 L462.50,771.00 L463.00,771.00 L463.50,771.00 L464.00,771.00 L464.50,771.00 L465.00,771.00 L465.50,771.00 L466.00,771.00 L466.50,771.00 L467.00,771.00 L467.50,771.00 L468.00,771.00 L468.50,771.00 L469.00,771.00 L469.50,771.00 L470.00,771.00 L470.50,771.00 L471.00,771.00 L471.50,771.00 L472.00,771.00 L472.50,771.00 L473.00,771.00 L473.50,771.00 L474.00,771.00 L474.50,771.00 L475.00,771.00" class="solid"/>
<path d="M150.00,762.94 L150.50,762.44 L151.00,761.92 L151.50,761.36 L152.00,760.78 L152.50,760.17 L153.00,759.52 L153.50,758.85 L154.00,758.14 L154.50,757.39 L155.00,756.61 L155.50,755.79 L156.00,754.94 L156.50,754.04 L157.00,753.11 L157.50,752.13 L158.00,751.11 L158.50,750.04 L159.00,748.93 L159.50,747.77 L160.00,746.56 L160.50,745.30 L161.00,743.99 L161.50,742.63 L162.00,741.21 L162.50,739.74 L163.00,738.21 L163.50,736.63 L164.00,734.98 L164.50,733.28 L165.00,731.51 L165.50,729.69 L166.00,727.80 L166.50,725.85 L167.00,723.83 L167.50,721.75 L168.00,719.60 L168.50,717.39 L169.00,715.11 L169.50,712.76 L170.00,710.34 L170.50,707.86 L171.00,705.30 L171.50,702.68 L172.00,699.98 L172.50,697.22 L173.00,694.39 L173.50,691.49 L174.00,688.52 L174.50,685.49 L175.00,682.38 L175.50,679.22 L176.00,675.98 L176.50,672.68 L177.00,669.32 L177.50,665.89 L178.00,662.41 L178.50,658.86 L179.00,655.26 L179.50,651.60 L180.00,647.89 L180.50,644.12 L181.00,640.31 L181.50,636.45 L182.00,632.55 L182.50,628.60 L183.00,624.62 L183.50,620.60 L184.00,616.54 L184.50,612.46 L185.00,608.35 L185.50,604.22 L186.00,600.07 L186.50,595.90 L187.00,591.72 L187.50,587.54 L188.00,583.35 L188.50,579.16 L189.00,574.98 L189.50,570.81 L190.00,566.65 L190.50,562.51 L191.00,558.39 L191.50,554.30 L192.00,550.24 L192.50,546.22 L193.00,542.25 L193.50,538.31 L194.00,534.43 L194.50,530.61 L195.00,526.85 L195.50,523.15 L196.00,519.52 L196.50,515.97 L197.00,512.50 L197.50,509.11 L198.00,505.81 L198.50,502.60 L199.00,499.50 L199.50,496.49 L200.00,493.59 L200.50,490.80 L201.00,488.13 L201.50,485.57 L202.00,483.13 L202.50,480.82 L203.00,478.64 L203.50,476.59 L204.00,474.68 L204.50,472.90 L205.00,471.26 L205.50,469.77 L206.00,468.41 L206.50,467.21 L207.00,466.15 L207.50,465.25 L208.00,464.50 L208.50,463.89 L209.00,463.45 L209.50,463.15 L210.00,463.01 L210.50,463.03 L211.00,463.19 L211.50,463.51 L212.00,463.98 L212.50,464.61 L213.00,465.38 L213.50,466.29 L214.00,467.36 L214.50,468.57 L215.00,469.93 L215.50,471.43 L216.00,473.07 L216.50,474.84 L217.00,476.75 L217.50,478.79 L218.00,480.96 L218.50,483.26 L219.00,485.68 L219.50,488.22 L220.00,490.87 L220.50,493.64 L221.00,496.51 L221.50,499.49 L222.00,502.57 L222.50,505.75 L223.00,509.02 L223.50,512.37 L224.00,515.81 L224.50,519.33 L225.00,522.92 L225.50,526.58 L226.00,530.30 L226.50,534.09 L227.00,537.93 L227.50,541.82 L228.00,545.76 L228.50,549.74 L229.00,553.76 L229.50,557.80 L230.00,561.88 L230.50,565.98 L231.00,570.10 L231.50,574.23 L232.00,578.38 L232.50,582.53 L233.00,586.68 L233.50,590.83 L234.00,594.97 L234.50,599.10 L235.00,603.22 L235.50,607.32 L236.00,611.40 L236.50,615.45 L237.00,619.48 L237.50,623.47 L238.00,627.43 L238.50,631.36 L239.00,635.24 L239.50,639.08 L240.00,642.87 L240.50,646.62 L241.00,650.32 L241.50,653.96 L242.00,657.55 L242.50,661.09 L243.00,664.56 L243.50,667.98 L244.00,671.34 L244.50,674.64 L245.00,677.87 L245.50,681.04 L246.00,684.14 L246.50,687.18 L247.00,690.15 L247.50,693.06 L248.00,695.89 L248.50,698.66 L249.00,701.37 L249.50,704.00 L250.00,706.57 L250.50,709.07 L251.00,711.50 L251.50,713.86 L252.00,716.16 L252.50,718.39 L253.00,720.56 L253.50,722.66 L254.00,724.69 L254.50,726.66 L255.00,728.57 L255.50,730.42 L256.00,732.20 L256.50,733.93 L257.00,735.59 L257.50,737.20 L258.00,738.75 L258.50,740.25 L259.00,741.69 L259.50,743.07 L260.00,744.41 L260.50,745.69 L261.00,746.92 L261.50,748.11 L262.00,749.24 L262.50,750.33 L263.00,751.38 L263.50,752.38 L264.00,753.34 L264.50,754.26 L265.00,755.13 L265.50,755.97 L266.00,756.78 L266.50,757.54 L267.00,758.27 L267.50,758.97 L268.00,759.64 L268.50,760.27 L269.00,760.87 L269.50,761.45 L270.00,761.99 L270.50,762.51 L271.00,763.00 L271.50,763.47 L272.00,763.91 L272.50,764.34 L273.00,764.74 L273.50,765.11 L274.00,765.47 L274.50,765.81 L275.00,766.13 L275.50,766.43 L276.00,766.72 L276.50,766.99 L277.00,767.25 L277.50,767.49 L278.00,767.71 L278.50,767.93 L279.00,768.13 L279.50,768.32 L280.00,768.50 L280.50,768.66 L281.00,768.82 L281.50,768.97 L282.00,769.11 L282.50,769.24 L283.00,769.36 L283.50,769.47 L284.00,769.58 L284.50,769.68 L285.00,769.77 L285.50,769.86 L286.00,769.94 L286.50,770.02 L287.00,770.09 L287.50,770.16 L288.00,770.22 L288.50,770.28 L289.00,770.33 L289.50,770.38 L290.00,770.43 L290.50,770.47 L291.00,770.51 L291.50,770.55 L292.00,770.58 L292.50,770.62 L293.00,770.65 L293.50,770.67 L294.00,770.70 L294.50,770.72 L295.00,770.75 L295.50,770.77 L296.00,770.79 L296.50,770.80 L297.00,770.82 L297.50,770.83 L298.00,770.85 L298.50,770.86 L299.00,770.87 L299.50,770.88 L300.00,770.89" class="dash"/>
<path d="M205.00,769.81 L205.50,769.73 L206.00,769.65 L206.50,769.56 L207.00,769.47 L207.50,769.37 L208.00,769.27 L208.50,769.16 L209.00,769.05 L209.50,768.93 L210.00,768.81 L210.50,768.67 L211.00,768.54 L211.50,768.39 L212.00,768.24 L212.50,768.08 L213.00,767.91 L213.50,767.74 L214.00,767.55 L214.50,767.36 L215.00,767.16 L215.50,766.95 L216.00,766.73 L216.50,766.50 L217.00,766.26 L217.50,766.01 L218.00,765.75 L218.50,765.48 L219.00,765.20 L219.50,764.91 L220.00,764.61 L220.50,764.29 L221.00,763.96 L221.50,763.62 L222.00,763.27 L222.50,762.91 L223.00,762.53 L223.50,762.14 L224.00,761.74 L224.50,761.32 L225.00,760.89 L225.50,760.44 L226.00,759.98 L226.50,759.51 L227.00,759.02 L227.50,758.52 L228.00,758.00 L228.50,757.47 L229.00,756.93 L229.50,756.37 L230.00,755.80 L230.50,755.21 L231.00,754.60 L231.50,753.99 L232.00,753.35 L232.50,752.71 L233.00,752.05 L233.50,751.37 L234.00,750.68 L234.50,749.98 L235.00,749.27 L235.50,748.54 L236.00,747.80 L236.50,747.05 L237.00,746.29 L237.50,745.51 L238.00,744.72 L238.50,743.93 L239.00,743.12 L239.50,742.30 L240.00,741.48 L240.50,740.64 L241.00,739.80 L241.50,738.95 L242.00,738.10 L242.50,737.24 L243.00,736.37 L243.50,735.50 L244.00,734.63 L244.50,733.76 L245.00,732.88 L245.50,732.00 L246.00,731.12 L246.50,730.24 L247.00,729.37 L247.50,728.50 L248.00,727.63 L248.50,726.76 L249.00,725.90 L249.50,725.05 L250.00,724.21 L250.50,723.37 L251.00,722.55 L251.50,721.73 L252.00,720.93 L252.50,720.14 L253.00,719.36 L253.50,718.60 L254.00,717.85 L254.50,717.12 L255.00,716.41 L255.50,715.71 L256.00,715.04 L256.50,714.38 L257.00,713.75 L257.50,713.14 L258.00,712.55 L258.50,711.99 L259.00,711.45 L259.50,710.94 L260.00,710.45 L260.50,709.99 L261.00,709.56 L261.50,709.16 L262.00,708.78 L262.50,708.44 L263.00,708.12 L263.50,707.84 L264.00,707.59 L264.50,707.36 L265.00,707.17 L265.50,707.01 L266.00,706.89 L266.50,706.79 L267.00,706.73 L267.50,706.70 L268.00,706.71 L268.50,706.74 L269.00,706.81 L269.50,706.91 L270.00,707.04 L270.50,707.21 L271.00,707.41 L271.50,707.64 L272.00,707.89 L272.50,708.19 L273.00,708.51 L273.50,708.86 L274.00,709.24 L274.50,709.65 L275.00,710.08 L275.50,710.55 L276.00,711.04 L276.50,711.56 L277.00,712.10 L277.50,712.67 L278.00,713.26 L278.50,713.88 L279.00,714.51 L279.50,715.17 L280.00,715.85 L280.50,716.55 L281.00,717.26 L281.50,718.00 L282.00,718.75 L282.50,719.51 L283.00,720.29 L283.50,721.09 L284.00,721.89 L284.50,722.71 L285.00,723.54 L285.50,724.38 L286.00,725.22 L286.50,726.08 L287.00,726.94 L287.50,727.80 L288.00,728.67 L288.50,729.54 L289.00,730.42 L289.50,731.30 L290.00,732.18 L290.50,733.05 L291.00,733.93 L291.50,734.81 L292.00,735.68 L292.50,736.55 L293.00,737.41 L293.50,738.27 L294.00,739.13 L294.50,739.97 L295.00,740.81 L295.50,741.64 L296.00,742.47 L296.50,743.28 L297.00,744.09 L297.50,744.88 L298.00,745.67 L298.50,746.44 L299.00,747.20 L299.50,747.95 L300.00,748.69 L300.50,749.41 L301.00,750.12 L301.50,750.82 L302.00,751.51 L302.50,752.18 L303.00,752.84 L303.50,753.48 L304.00,754.11 L304.50,754.72 L305.00,755.33 L305.50,755.91 L306.00,756.48 L306.50,757.04 L307.00,757.58 L307.50,758.11 L308.00,758.62 L308.50,759.12 L309.00,759.61 L309.50,760.08 L310.00,760.53 L310.50,760.97 L311.00,761.40 L311.50,761.82 L312.00,762.22 L312.50,762.61 L313.00,762.98 L313.50,763.34 L314.00,763.69 L314.50,764.03 L315.00,764.36 L315.50,764.67 L316.00,764.97 L316.50,765.26 L317.00,765.54 L317.50,765.81 L318.00,766.06 L318.50,766.31 L319.00,766.55 L319.50,766.77 L320.00,766.99 L320.50,767.20 L321.00,767.40 L321.50,767.59 L322.00,767.77 L322.50,767.94 L323.00,768.11 L323.50,768.27 L324.00,768.42 L324.50,768.56 L325.00,768.70 L325.50,768.83 L326.00,768.96 L326.50,769.07 L327.00,769.19 L327.50,769.29 L328.00,769.39 L328.50,769.49 L329.00,769.58 L329.50,769.67 L330.00,769.75 L330.50,769.82 L331.00,769.90 L331.50,769.97 L332.00,770.03 L332.50,770.09 L333.00,770.15 L333.50,770.20 L334.00,770.26 L334.50,770.30 L335.00,770.35" class="dash"/>
<text class="num" x="62.20 73.80 85.94" y="23.50">150</text>
<text class="num" x="62.10 74.24 85.54" y="131.70">100</text>
<text class="num" x="73.00 85.74" y="237.90">50</text>
<text class="num" x="115.49" y="341.20">0</text>
<text class="num" x="303.20 316.24" y="341.30">50</text>
<text class="num" x="482.50 494.64 506.74" y="341.10">100</text>
<text class="num" x="36.70 48.20 59.94 70.62 81.40 93.64" y="464.70">150x10</text>
<text class="sup" x="104.15" y="456.80">3</text>
<text class="num" x="39.30 50.84 62.04 73.12 83.00 94.54" y="577.90">100x10</text>
<text class="sup" x="105.55" y="570.50">3</text>
<text class="num" x="50.20 61.44 72.42 83.60 94.14" y="687.50">50x10</text>
<text class="sup" x="104.85" y="679.60">3</text>
<text class="num" x="110.74" y="791.70">0</text>
<text class="num" x="299.20 312.24" y="791.80">50</text>
<text class="num" x="485.30 497.34 509.24" y="791.90">100</text>
<text class="ylab" transform="translate(16.6,226.4) rotate(-90)">Frequency</text>
<text class="ylab" transform="translate(16.0,674.2) rotate(-90)">Frequency</text>
<text class="xlab" x="196.1" y="378.8">Transferrin</text>
<text class="xlab" x="307.3" y="378.8">Saturation</text>
<text class="xlab" x="407.6" y="378.8">(</text>
<text class="xlab" x="416.4" y="378.8">%</text>
<text class="xlab" x="432.9" y="378.8">)</text>
<text class="xlab" x="196.1" y="830.6">Transferrin</text>
<text class="xlab" x="307.3" y="830.6">Saturation</text>
<text class="xlab" x="407.6" y="830.6">(</text>
<text class="xlab" x="416.4" y="830.6">%</text>
<text class="xlab" x="432.9" y="830.6">)</text>
<text class="big" transform="translate(453.8,56.9) scale(0.965,1)">A</text>
<text class="big" transform="translate(449.6,501.0) scale(0.957,1)">B</text>
</svg></body></html>
